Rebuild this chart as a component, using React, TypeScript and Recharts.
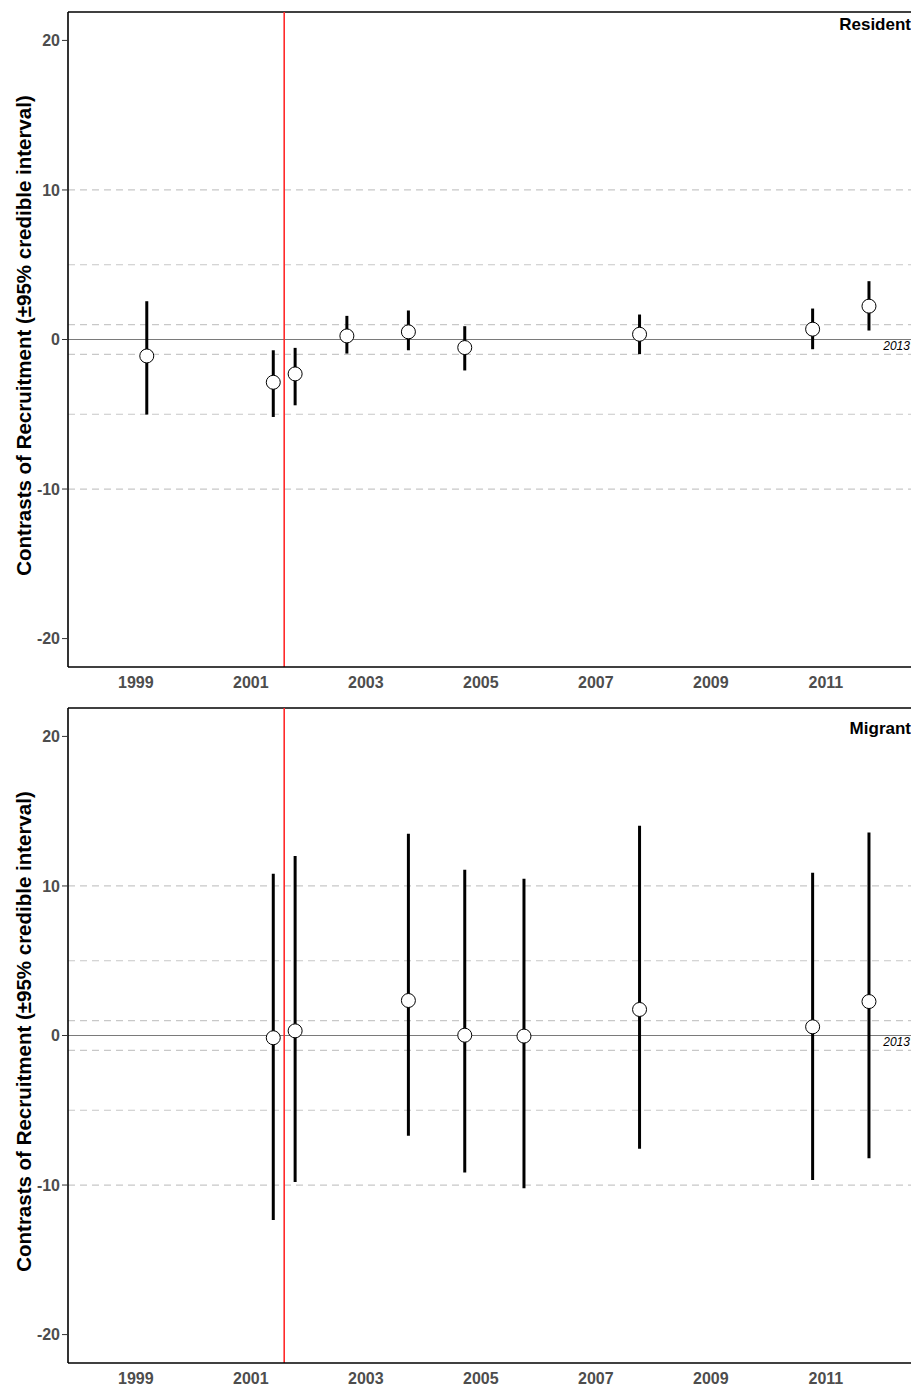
import React from "react";
import {
  ScatterChart,
  Scatter,
  ErrorBar,
  XAxis,
  YAxis,
  ReferenceLine,
  ReferenceDot,
} from "recharts";

// ── Data ────────────────────────────────────────
const RES_YEARS = [1999.19, 2001.39, 2001.77, 2002.67, 2003.74, 2004.72, 2007.76, 2010.77, 2011.75];
const RES_MEAN = [-1.1, -2.86, -2.3, 0.24, 0.51, -0.54, 0.35, 0.69, 2.23];
const RES_LO = [-5.02, -5.18, -4.4, -0.94, -0.72, -2.07, -0.98, -0.65, 0.6];
const RES_HI = [2.56, -0.72, -0.56, 1.58, 1.94, 0.89, 1.67, 2.07, 3.9];

const MIG_YEARS = [2001.39, 2001.77, 2003.74, 2004.72, 2005.75, 2007.76, 2010.77, 2011.75];
const MIG_MEAN = [-0.15, 0.31, 2.34, 0.02, -0.04, 1.74, 0.58, 2.27];
const MIG_LO = [-12.33, -9.79, -6.71, -9.16, -10.21, -7.58, -9.66, -8.2];
const MIG_HI = [10.82, 12.0, 13.49, 11.08, 10.48, 14.03, 10.88, 13.58];

const X_TICKS = [1999, 2001, 2003, 2005, 2007, 2009, 2011];
const Y_TICKS = [-20, -10, 0, 10, 20];
const DASH_LEVELS = [10, 5, 1, -1, -5, -10];
const X_DOMAIN: [number, number] = [1997.82, 2013.02];
const Y_DOMAIN: [number, number] = [-21.9, 21.9];
const EVENT_YEAR = 2001.58; // red vertical line
const NOTE_YEAR = 2012.23; // "2013" note on the zero line
const Y_TITLE = "Contrasts of Recruitment (±95% credible interval)";

const FONT = "'Liberation Sans', Arial, sans-serif";
const tickStyle = { fill: "#4d4d4d", fontSize: 16, fontWeight: 700, fontFamily: FONT };

function makeRows(years: number[], mean: number[], lo: number[], hi: number[]) {
  return years.map((year, i) => ({
    year,
    mean: mean[i],
    err: [mean[i] - lo[i], hi[i] - mean[i]],
  }));
}

// eslint-disable-next-line @typescript-eslint/no-explicit-any
function YTitle(props: any) {
  const vb = props.viewBox || { y: 12, height: 655 };
  const cx = 23;
  const cy = vb.y + vb.height / 2 - 4;
  return (
    <text
      x={cx}
      y={cy}
      transform={`rotate(-90 ${cx} ${cy})`}
      textAnchor="middle"
      dominantBaseline="central"
      fontFamily={FONT}
      fontWeight={700}
      fontSize={20.5}
      fill="#000"
    >
      {Y_TITLE}
    </text>
  );
}

// eslint-disable-next-line @typescript-eslint/no-explicit-any
const Dot = (p: any) => (
  <circle cx={p.cx} cy={p.cy} r={7} fill="#fff" stroke="#000" strokeWidth={1} />
);

interface PanelProps {
  rows: { year: number; mean: number; err: number[] }[];
  title: string;
  titleTop: number;
  top: number;
}

function Panel({ rows, title, titleTop, top }: PanelProps) {
  return (
    <div style={{ position: "absolute", left: 0, top, width: 942, height: 695 }}>
      <ScatterChart
        width={942}
        height={695}
        margin={{ top: 12, right: 0, bottom: 0, left: 0 }}
      >
        <XAxis
          type="number"
          dataKey="year"
          domain={X_DOMAIN}
          ticks={X_TICKS}
          allowDataOverflow
          height={28}
          tickLine={false}
          tickSize={7}
          tickMargin={3}
          tick={tickStyle}
          axisLine={{ stroke: "#000", strokeWidth: 1.6 }}
        />
        <YAxis
          type="number"
          dataKey="mean"
          domain={Y_DOMAIN}
          ticks={Y_TICKS}
          allowDataOverflow
          width={68}
          tickSize={6}
          tickMargin={2}
          tick={tickStyle}
          tickLine={{ stroke: "#333", strokeWidth: 1 }}
          axisLine={{ stroke: "#000", strokeWidth: 1.6 }}
          label={<YTitle />}
        />
        {DASH_LEVELS.map((lv) => (
          <ReferenceLine
            key={lv}
            y={lv}
            stroke="#c8c8c8"
            strokeWidth={1.2}
            strokeDasharray="7 5"
          />
        ))}
        <ReferenceLine y={0} stroke="#7a7a7a" strokeWidth={1} />
        <ReferenceLine y={Y_DOMAIN[1]} stroke="#000" strokeWidth={1.6} />
        <ReferenceLine x={EVENT_YEAR} stroke="#ff2a2a" strokeWidth={1.6} />
        <ReferenceDot
          x={NOTE_YEAR}
          y={0}
          r={0}
          fill="none"
          stroke="none"
          label={{
            value: "2013",
            position: "bottom",
            offset: 2,
            fill: "#000",
            fontSize: 12,
            fontStyle: "italic",
            fontFamily: FONT,
          }}
        />
        <Scatter data={rows} shape={<Dot />} isAnimationActive={false}>
          <ErrorBar
            dataKey="err"
            direction="y"
            width={0}
            stroke="#000"
            strokeWidth={3}
            isAnimationActive={false}
          />
        </Scatter>
      </ScatterChart>
      <div
        style={{
          position: "absolute",
          right: 31,
          top: titleTop,
          fontFamily: FONT,
          fontWeight: 700,
          fontSize: 17,
          lineHeight: "19px",
          color: "#000",
        }}
      >
        {title}
      </div>
    </div>
  );
}

export default function App() {
  const resident = makeRows(RES_YEARS, RES_MEAN, RES_LO, RES_HI);
  const migrant = makeRows(MIG_YEARS, MIG_MEAN, MIG_LO, MIG_HI);
  return (
    <div
      style={{
        position: "absolute",
        left: 0,
        top: 0,
        width: 911,
        height: 1388,
        overflow: "hidden",
        background: "#fff",
      }}
    >
      <Panel rows={resident} title="Resident" titleTop={15} top={0} />
      <Panel rows={migrant} title="Migrant" titleTop={23} top={695.5} />
    </div>
  );
}
